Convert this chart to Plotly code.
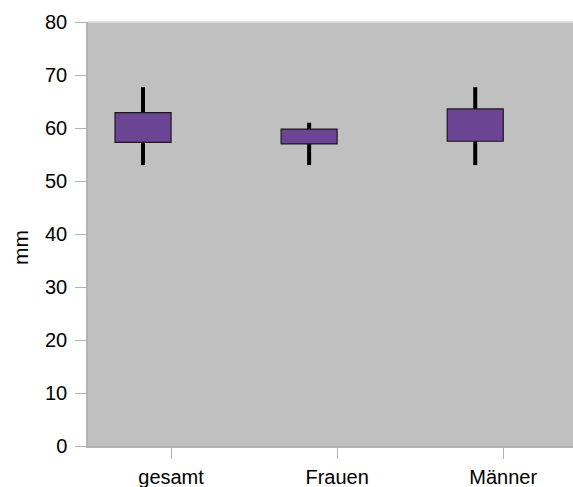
import plotly.graph_objects as go

categories = ["gesamt", "Frauen", "Männer"]
low = [53.0, 53.0, 53.0]
q1 = [57.3, 57.0, 57.5]
q3 = [62.9, 59.8, 63.6]
high = [67.7, 61.0, 67.7]
y_ticks = [0, 10, 20, 30, 40, 50, 60, 70, 80]
y_title = "mm"

band_px = 166.0
box_w = 56.0 / band_px
whisk_w = 4.0 / band_px

fig = go.Figure()
# whiskers
fig.add_trace(go.Bar(
    x=categories, y=[h - l for h, l in zip(high, low)], base=low,
    width=whisk_w, offset=-box_w / 2 - whisk_w / 2,
    marker=dict(color="black", line=dict(width=0)),
    hoverinfo="skip", showlegend=False))
# boxes
fig.add_trace(go.Bar(
    x=categories, y=[b - a for a, b in zip(q1, q3)], base=q1,
    width=box_w, offset=-box_w,
    marker=dict(color="#6b4593", line=dict(color="#1a1a1a", width=1.2)),
    showlegend=False))

plot_l, plot_w, plot_t, plot_h = 88, 485, 22, 424

fig.update_layout(
    width=573, height=487,
    margin=dict(l=plot_l, r=0, t=plot_t, b=487 - plot_t - plot_h),
    paper_bgcolor="white", plot_bgcolor="#c0c0c0",
    barmode="overlay",
    font=dict(family="Liberation Sans, Arial, sans-serif", size=20, color="black"),
    xaxis=dict(
        type="category", range=[-0.5, 2.42], automargin=False,
        showgrid=False, showline=True, linecolor="#b3b3b3", linewidth=1.5,
        ticks="outside", ticklen=11, tickcolor="#b3b3b3", tickwidth=1,
        ticklabelstandoff=1, zeroline=False),
    yaxis=dict(
        range=[0, 80], tickvals=y_ticks, showgrid=False, automargin=False,
        showline=True, linecolor="#b3b3b3", linewidth=1.5,
        ticks="outside", ticklen=11, tickcolor="#b3b3b3", tickwidth=1,
        ticklabelstandoff=4, zeroline=False),
    annotations=[dict(text=y_title, textangle=-90, showarrow=False,
                      xref="paper", yref="paper",
                      x=(21 - plot_l) / plot_w, y=(plot_t + plot_h - 248) / plot_h,
                      xanchor="center", yanchor="middle", font=dict(size=21))],
    shapes=[dict(type="line", xref="paper", yref="paper", x0=0, x1=1, y0=1, y1=1,
                 line=dict(color="#dcdcdc", width=1.5))],
)

fig.write_html("out.html", config={"displayModeBar": False},
               post_script="document.body.style.margin='0';document.body.style.overflow='hidden';")
